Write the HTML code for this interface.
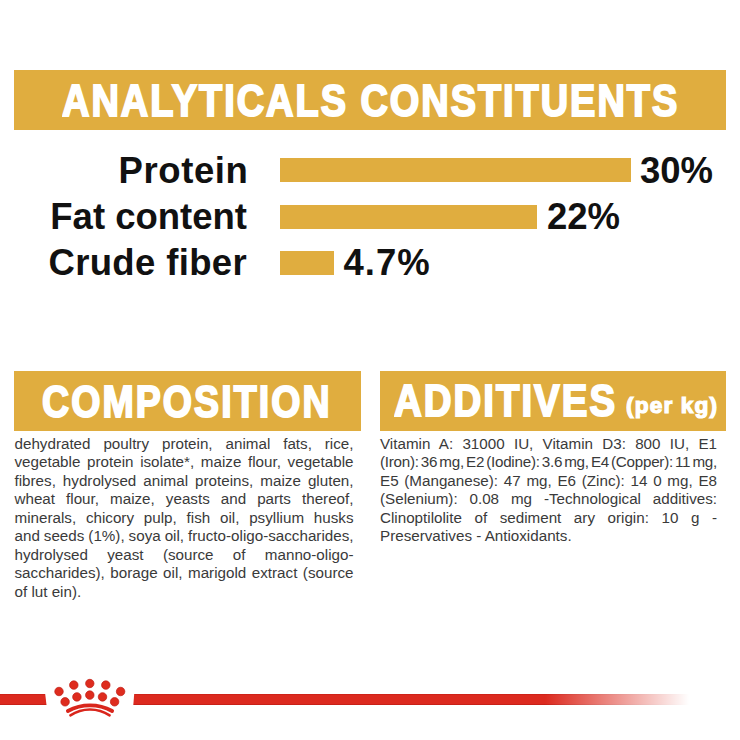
<!DOCTYPE html>
<html><head><meta charset="utf-8">
<style>
html,body{margin:0;padding:0;background:#fff;}
body{width:740px;height:740px;position:relative;overflow:hidden;font-family:"Liberation Sans",Arial,sans-serif;}
.bar{position:absolute;background:#E0AD3F;}
.t{position:absolute;white-space:nowrap;line-height:1;}
.h{color:#fff;font-weight:bold;transform-origin:0 0;-webkit-text-stroke:2px #fff;}
.lab{color:#111;font-weight:bold;font-size:36.5px;}
.col{position:absolute;font-size:15.2px;line-height:18.5px;color:#3a3a3a;word-spacing:-1px;}
.col div{text-align:justify;text-align-last:justify;white-space:nowrap;}
.col div.l{text-align-last:left;word-spacing:0;}
</style></head><body>

<div class="bar" style="left:14px;top:70px;width:712px;height:60px"></div>
<div class="t h" style="left:61.5px;top:79.4px;font-size:44.7px;letter-spacing:2.29px;transform:scaleX(0.85)">ANALYTICALS CONSTITUENTS</div>

<div class="t lab" style="right:491.5px;top:152.7px;letter-spacing:0.6px">Protein</div>
<div class="t lab" style="right:493px;top:198.6px">Fat content</div>
<div class="t lab" style="right:493px;top:244.6px;letter-spacing:0.35px">Crude fiber</div>

<div class="bar" style="left:279.5px;top:158.1px;width:351px;height:24.1px"></div>
<div class="bar" style="left:279.5px;top:204.5px;width:257px;height:24px"></div>
<div class="bar" style="left:279.5px;top:250.5px;width:54px;height:24px"></div>

<div class="t lab" style="left:640px;top:152.7px">30%</div>
<div class="t lab" style="left:547px;top:198.6px">22%</div>
<div class="t lab" style="left:343.5px;top:244.6px;letter-spacing:1px">4.7%</div>

<div class="bar" style="left:14px;top:371px;width:347px;height:60px"></div>
<div class="t h" style="left:41.5px;top:379.5px;font-size:44.7px;letter-spacing:2.45px;transform:scaleX(0.84)">COMPOSITION</div>

<div class="bar" style="left:380px;top:371px;width:346px;height:60px"></div>
<div class="t h" style="left:394px;top:379.3px;font-size:44.7px;letter-spacing:2.33px;transform:scaleX(0.86)">ADDITIVES</div>
<div class="t h" style="left:626px;top:396.4px;font-size:21.4px;letter-spacing:1.08px;transform:scaleX(1.06);-webkit-text-stroke:1.2px #fff">(per kg)</div>

<div class="col" style="left:14.5px;top:434.5px;width:339px">
<div>dehydrated poultry protein, animal fats, rice,</div>
<div>vegetable protein isolate*, maize flour, vegetable</div>
<div>fibres, hydrolysed animal proteins, maize gluten,</div>
<div>wheat flour, maize, yeasts and parts thereof,</div>
<div>minerals, chicory pulp, fish oil, psyllium husks</div>
<div>and seeds (1%), soya oil, fructo-oligo-saccharides,</div>
<div>hydrolysed yeast (source of manno-oligo-</div>
<div>saccharides), borage oil, marigold extract (source</div>
<div class="l">of lut ein).</div>
</div>

<div class="col" style="left:380px;top:434.5px;width:337px">
<div>Vitamin A: 31000 IU, Vitamin D3: 800 IU, E1</div>
<div style="word-spacing:-2.5px;letter-spacing:-0.25px">(Iron): 36 mg, E2 (Iodine): 3.6 mg, E4 (Copper): 11 mg,</div>
<div>E5 (Manganese): 47 mg, E6 (Zinc): 14 0 mg, E8</div>
<div>(Selenium): 0.08 mg -Technological additives:</div>
<div>Clinoptilolite of sediment ary origin: 10 g -</div>
<div class="l">Preservatives - Antioxidants.</div>
</div>

<!-- red line -->
<div style="position:absolute;left:0;top:694px;width:46.5px;height:11px;clip-path:polygon(0 0,45.2px 0,46.5px 100%,0 100%);background:linear-gradient(to bottom,#C81F16 0,#DC2A1F 1.5px,#DC2A1F 9.5px,#BE1C14 11px)"></div>
<div style="position:absolute;left:133.3px;top:694px;width:560px;height:11px;clip-path:polygon(0.9px 0,100% 0,100% 100%,0 100%);background:linear-gradient(to right,rgba(255,255,255,0) 0,rgba(255,255,255,0) 412px,#fff 556px),linear-gradient(to bottom,#C81F16 0,#DC2A1F 1.5px,#DC2A1F 9.5px,#BE1C14 11px)"></div>

<svg style="position:absolute;left:0;top:0" width="740" height="740" viewBox="0 0 740 740">
<g fill="#DE2C1E" stroke="#C01C16" stroke-width="0.7">
<circle cx="59" cy="691.5" r="4.25"/>
<circle cx="73.8" cy="685.1" r="4.25"/>
<circle cx="89.8" cy="683.5" r="4.2"/>
<circle cx="105.8" cy="685.1" r="4.25"/>
<circle cx="120.6" cy="691.5" r="4.25"/>
<circle cx="65.1" cy="701.8" r="4.25"/>
<circle cx="76.9" cy="696.9" r="4.25"/>
<circle cx="89.8" cy="695.1" r="4.25"/>
<circle cx="102.5" cy="696.9" r="4.25"/>
<circle cx="114.6" cy="701.8" r="4.25"/>
</g>
<g fill="none" stroke="#D9261C" stroke-linecap="round">
<path stroke-width="3.8" d="M67.9 711 A46.5 46.5 0 0 1 112.1 711"/>
<path stroke-width="2.5" d="M70.4 715.4 A34.9 34.9 0 0 1 109.6 715.4"/>
</g>
</svg>
</body></html>
